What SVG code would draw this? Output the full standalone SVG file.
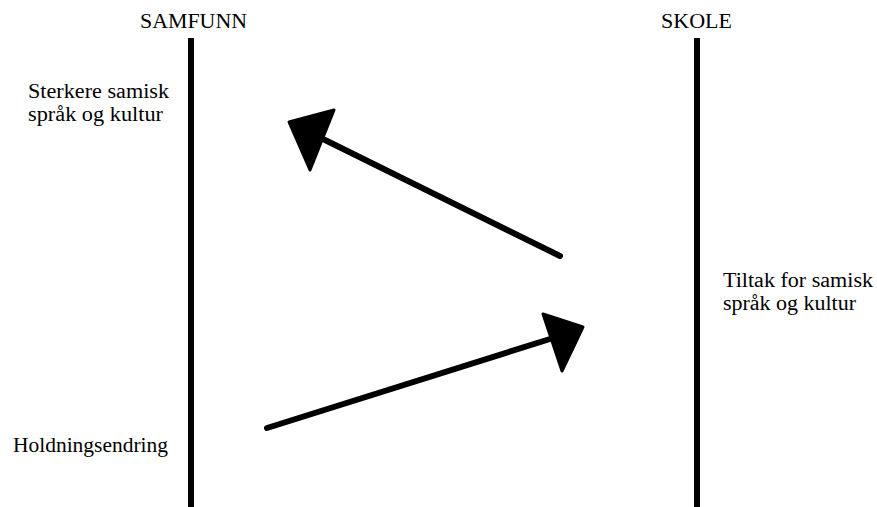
<svg xmlns="http://www.w3.org/2000/svg" width="877" height="507" viewBox="0 0 877 507">
<style>
text{font-family:"Liberation Serif","Times New Roman",serif;font-size:20px;fill:#000}
.axis{stroke:#000;stroke-width:6;fill:none}
.conn{stroke:#000;stroke-width:6;stroke-linecap:round;fill:none}
.head{fill:#000;stroke:#000;stroke-width:3;stroke-linejoin:round}
</style>
<rect width="877" height="507" fill="#fff"/>
<g id="samfunn">
<line class="axis" x1="191" y1="38" x2="191" y2="507"/>
<text x="140" y="28" textLength="107" lengthAdjust="spacingAndGlyphs">SAMFUNN</text>
</g>
<g id="skole">
<line class="axis" x1="697" y1="38" x2="697" y2="507"/>
<text x="661" y="28" textLength="71" lengthAdjust="spacingAndGlyphs">SKOLE</text>
</g>
<g id="sterkere">
<text x="28" y="98" textLength="141" lengthAdjust="spacingAndGlyphs">Sterkere samisk</text>
<text x="28" y="121" textLength="135" lengthAdjust="spacingAndGlyphs">språk og kultur</text>
</g>
<g id="tiltak">
<text x="723" y="287" textLength="150" lengthAdjust="spacingAndGlyphs">Tiltak for samisk</text>
<text x="723" y="310" textLength="133" lengthAdjust="spacingAndGlyphs">språk og kultur</text>
</g>
<g id="holdning">
<text x="13" y="452" textLength="155" lengthAdjust="spacingAndGlyphs">Holdningsendring</text>
</g>
<g id="connectors">
<line class="conn" x1="560" y1="256" x2="325" y2="140"/>
<polygon class="head" points="289,122 334,110 310,170"/>
<line class="conn" x1="267" y1="428" x2="550" y2="339"/>
<polygon class="head" points="583,327 543,314 562,371"/>
</g>
</svg>
